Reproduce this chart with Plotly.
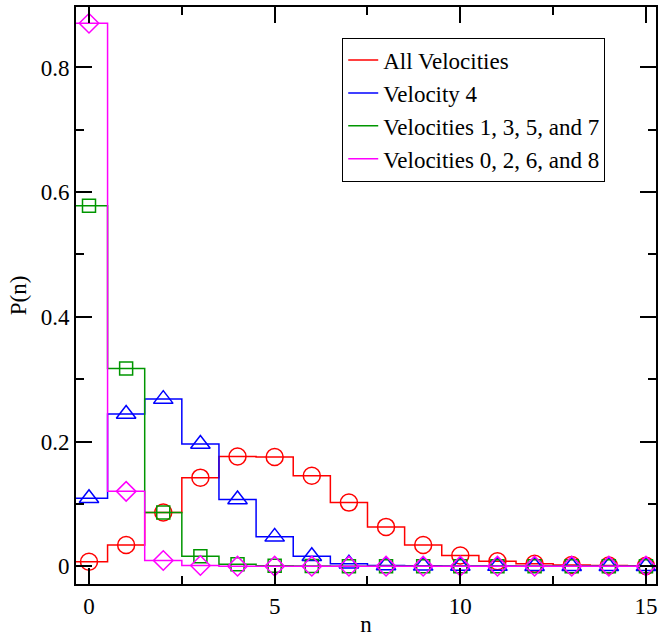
import plotly.graph_objects as go

n = list(range(16))
all_vel = [0.007, 0.034, 0.086, 0.142, 0.176, 0.175, 0.145, 0.102, 0.063, 0.034, 0.017, 0.008, 0.004, 0.002, 0.001, 0.0005]
vel4 = [0.109, 0.244, 0.268, 0.196, 0.107, 0.047, 0.016, 0.004, 0.001, 0.0005, 0.0002, 0.0001, 0.0, 0.0, 0.0, 0.0]
vel1357 = [0.578, 0.317, 0.086, 0.016, 0.003, 0.0005, 0.0001, 0.0, 0.0, 0.0, 0.0, 0.0, 0.0, 0.0, 0.0, 0.0]
vel0268 = [0.871, 0.120, 0.009, 0.001, 0.0, 0.0, 0.0, 0.0, 0.0, 0.0, 0.0, 0.0, 0.0, 0.0, 0.0, 0.0]

series = [
    ("All Velocities", all_vel, "#ff0000", "circle-open", 17),
    ("Velocity 4", vel4, "#0000ff", "triangle-up-open", 17),
    ("Velocities 1, 3, 5, and 7", vel1357, "#009600", "square-open", 13),
    ("Velocities 0, 2, 6, and 8", vel0268, "#ff00ff", "diamond-open", 15),
]

FONT = "Liberation Serif"
FS = 23
fig = go.Figure()
for name, vals, color, sym, size in series:
    # centered steps: extend half a bin on each side
    xs = [n[0] - 0.5] + n + [n[-1] + 0.5]
    ys = [vals[0]] + vals + [vals[-1]]
    fig.add_trace(go.Scatter(x=xs, y=ys, mode="lines", name=name,
                             line=dict(color=color, width=1.5, shape="hvh")))
    fig.add_trace(go.Scatter(x=n, y=vals, mode="markers", showlegend=False,
                             marker=dict(symbol=sym, size=size, color=color,
                                         line=dict(width=1.5, color=color))))

axis_common = dict(
    showgrid=False, zeroline=False, showline=True, linecolor="black", linewidth=2,
    mirror="allticks", ticks="inside", ticklen=16, tickwidth=1.5, tickcolor="black",
    tickfont=dict(family=FONT, size=FS, color="black"),
)
fig.update_xaxes(range=[-0.35, 15.27], dtick=5, tick0=0,
                 minor=dict(dtick=2.5, ticks="inside", ticklen=8, tickwidth=1.5, tickcolor="black"),
                 title=dict(text="n", font=dict(family=FONT, size=FS, color="black"), standoff=0),
                 **axis_common)
fig.update_yaxes(range=[-0.0286, 0.897], dtick=0.2, tick0=0,
                 minor=dict(dtick=0.1, ticks="inside", ticklen=8, tickwidth=1.5, tickcolor="black"),
                 title=dict(text="P(n)", font=dict(family=FONT, size=FS, color="black"), standoff=8),
                 **axis_common)

fig.update_layout(
    width=660, height=637,
    margin=dict(l=76, r=2, t=7, b=47),
    paper_bgcolor="white", plot_bgcolor="white",
    font=dict(family=FONT, size=FS, color="black"),
    legend=dict(x=0.459, y=0.947, xanchor="left", yanchor="top",
                bordercolor="black", borderwidth=1, bgcolor="white",
                font=dict(family=FONT, size=FS, color="black"),
                tracegroupgap=0),
    showlegend=True,
)

fig.write_html("out.html", config={"displayModeBar": False},
               post_script="document.body.style.margin='0';")
